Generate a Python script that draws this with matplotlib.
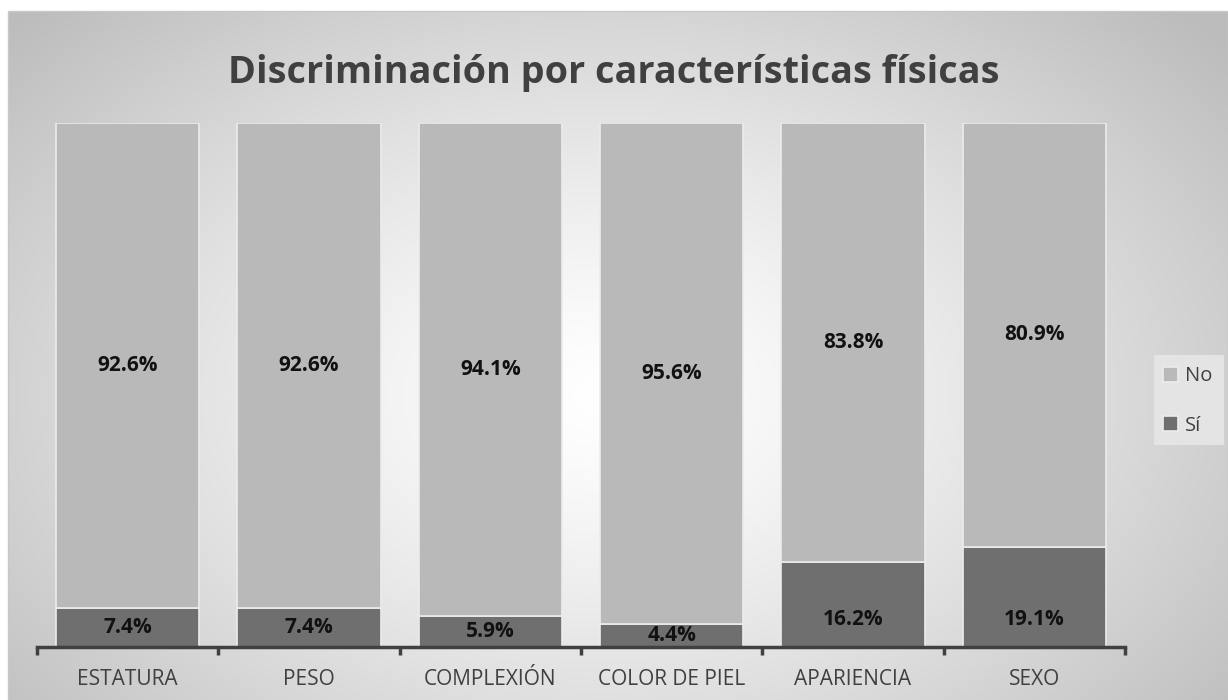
import numpy as np
import matplotlib
matplotlib.use("Agg")
from matplotlib import pyplot as plt
from matplotlib.patches import Rectangle

# Data
categories = ["ESTATURA", "PESO", "COMPLEXIÓN", "COLOR DE PIEL", "APARIENCIA", "SEXO"]
si_values = [7.4, 7.4, 5.9, 4.4, 16.2, 19.1]
no_values = [92.6, 92.6, 94.1, 95.6, 83.8, 80.9]
series_names = ["Sí", "No"]

plt.rcParams['font.family'] = ['Open Sans', 'DejaVu Sans']

W, H = 1228, 700
fig = plt.figure(figsize=(W / 100, H / 100), dpi=100)

# Background: radial gradient inside a chart frame
bg = fig.add_axes([0, 0, 1, 1])
bg.set_xlim(0, W)
bg.set_ylim(H, 0)
bg.axis("off")
yy, xx = np.mgrid[0:H, 0:W]
r = np.sqrt(((xx - 600) / 760.0) ** 2 + ((yy - 390) / 520.0) ** 2)
shade = np.clip(1.0 - 0.24 * r ** 1.3, 0.74, 1.0)
img = np.dstack([shade, shade, shade])
bg.imshow(img, extent=(8, W, H, 11), aspect="auto", zorder=0)
bg.add_patch(Rectangle((8, 11), W - 8, H, fill=False, edgecolor="#c8c8c8", lw=1, zorder=1))
# legend background box
bg.add_patch(Rectangle((1154, 355), 70, 90, facecolor="#e4e4e4", edgecolor="none", zorder=1))

# Main chart
ax = fig.add_axes([37 / W, 1 - 647 / H, (1125 - 37) / W, (647 - 123) / H])
ax.patch.set_alpha(0)
x = np.arange(len(categories))
width = 0.79
bars_si = ax.bar(x, si_values, width, color="#6f6f6f", edgecolor="#ececec", linewidth=1.2,
                 label=series_names[0], zorder=2)
bars_no = ax.bar(x, no_values, width, bottom=si_values, color="#b9b9b9", edgecolor="#ececec",
                 linewidth=1.2, label=series_names[1], zorder=2)

for i in range(len(categories)):
    # Sí labels sit near the base of the segment
    ax.text(x[i], min(si_values[i] / 2, 5.2), f"{si_values[i]:.1f}%", ha="center", va="center",
            fontsize=15, fontweight="bold", color="#111111", zorder=3)
    ax.text(x[i], si_values[i] + no_values[i] / 2, f"{no_values[i]:.1f}%", ha="center",
            va="center", fontsize=15, fontweight="bold", color="#111111", zorder=3)

ax.set_xlim(-0.5, len(categories) - 0.5)
ax.set_ylim(0, 100)
ax.set_yticks([])
for side in ["top", "right", "left"]:
    ax.spines[side].set_visible(False)
ax.spines["bottom"].set_color("#404040")
ax.spines["bottom"].set_linewidth(2.5)
ax.set_xticks(np.arange(-0.5, len(categories), 1.0))
ax.set_xticklabels([])
ax.tick_params(axis="x", which="major", length=6, width=2.5, color="#404040", direction="out")
ax.set_xticks(x, minor=True)
ax.set_xticklabels(categories, minor=True, fontsize=15, color="#404040")
ax.tick_params(axis="x", which="minor", length=0, pad=16)

fig.text(614 / W, 1 - 73 / H, "Discriminación por características físicas", ha="center",
         va="center", fontsize=27.2, fontweight="bold", color="#404040")

handles = [bars_no, bars_si]
leg = fig.legend(handles, ["No", "Sí"], loc="center", bbox_to_anchor=(1188 / W, 1 - 401 / H),
                 frameon=False, fontsize=14.5, handlelength=0.75, handleheight=0.75,
                 labelspacing=1.45, borderpad=0.3, handletextpad=0.35)
for t in leg.get_texts():
    t.set_color("#404040")

fig.savefig("out.png", dpi=100)
